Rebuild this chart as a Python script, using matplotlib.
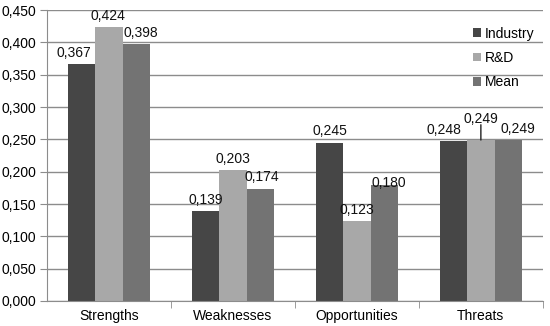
import numpy as np
from matplotlib import pyplot as plt
from matplotlib.ticker import FuncFormatter, FixedLocator

categories = ['Strengths', 'Weaknesses', 'Opportunities', 'Threats']
industry = [0.367, 0.139, 0.245, 0.248]
rnd = [0.424, 0.203, 0.123, 0.249]
mean = [0.398, 0.174, 0.180, 0.249]
series_names = ['Industry', 'R&D', 'Mean']

colors = ['#464646', '#a8a8a8', '#737373']
grid_col = '#8c8c8c'
fs = 10

plt.rcParams['font.family'] = ['Liberation Sans', 'DejaVu Sans']
fig = plt.figure(figsize=(5.5, 3.26), dpi=100)
ax = fig.add_axes([0.0855, 0.0767, 0.9015, 0.8923])

x = np.arange(len(categories))
w = 0.22
allvals = [industry, rnd, mean]

# label offsets (points) to mimic manual placement in the original
dx = [[-6, -1, 3], [0, 0, 1], [0, 0, 3], [-7, 0, 7]]
dy = [[3, 3, 3], [3, 3, 3], [3, 3, -4], [3, 10, 3]]

for i, vals in enumerate(allvals):
    pos = x + (i - 1) * w
    ax.bar(pos, vals, width=w, color=colors[i], label=series_names[i], zorder=2)
    for j, v in enumerate(vals):
        txt = ('%.3f' % v).replace('.', ',')
        ax.annotate(txt, (pos[j], v), xytext=(dx[j][i], dy[j][i]),
                    textcoords='offset points', ha='center', va='bottom',
                    fontsize=fs, color='#111111', zorder=4)

# leader line for the Threats R&D label
ax.annotate('', (x[3], rnd[3]), xytext=(0, 11), textcoords='offset points',
            arrowprops=dict(arrowstyle='-', color='#222222', lw=1.0,
                            shrinkA=0, shrinkB=0), zorder=4)

ax.set_xlim(-0.5, 3.5)
ax.set_ylim(0, 0.45)
ax.set_yticks(np.arange(0, 0.451, 0.05))
ax.yaxis.set_major_formatter(FuncFormatter(lambda v, p: ('%.3f' % v).replace('.', ',')))
ax.yaxis.grid(True, color=grid_col, lw=1.0, zorder=0)
ax.set_axisbelow(True)

ax.set_xticks(x)
ax.set_xticklabels(categories)
ax.xaxis.set_minor_locator(FixedLocator([0.5, 1.5, 2.5, 3.5]))
ax.tick_params(axis='x', which='major', length=0, pad=6, labelsize=fs)
ax.tick_params(axis='x', which='minor', length=5, color=grid_col)
ax.tick_params(axis='y', length=5, color=grid_col, labelsize=fs, pad=3)

for s in ['top', 'right']:
    ax.spines[s].set_visible(False)
for s in ['left', 'bottom']:
    ax.spines[s].set_color(grid_col)

ax.legend(loc='upper left', bbox_to_anchor=(0.848, 0.94), bbox_transform=fig.transFigure,
          frameon=False, fontsize=fs, handlelength=0.55, handleheight=0.55,
          handletextpad=0.3, labelspacing=0.75, borderpad=0)

fig.savefig('out.png', dpi=100)
